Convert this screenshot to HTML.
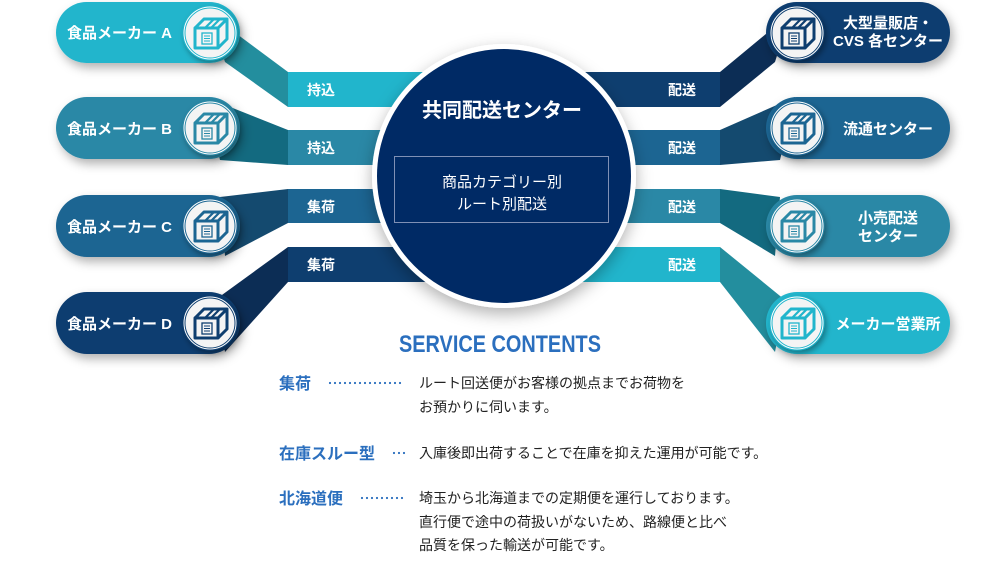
<!DOCTYPE html>
<html><head><meta charset="utf-8">
<style>
body{margin:0;background:#fff;width:1000px;height:560px;overflow:hidden;font-family:"Liberation Sans","Noto Sans CJK JP",sans-serif;}
svg text{font-family:"Liberation Sans","Noto Sans CJK JP",sans-serif;}
</style></head><body>
<svg width="1000" height="560" viewBox="0 0 1000 560" xmlns="http://www.w3.org/2000/svg">
<defs>
<filter id="sh" x="-20%" y="-30%" width="150%" height="170%"><feDropShadow dx="3" dy="5" stdDeviation="5" flood-color="#000" flood-opacity="0.3"/></filter>
<filter id="sh2" x="-30%" y="-30%" width="160%" height="160%"><feDropShadow dx="2" dy="3" stdDeviation="3" flood-color="#000" flood-opacity="0.35"/></filter>
<filter id="csh" x="-20%" y="-20%" width="140%" height="140%"><feDropShadow dx="0" dy="6" stdDeviation="8" flood-color="#000" flood-opacity="0.3"/></filter>
<g id="box">
<circle r="27" fill="#fff" filter="url(#sh2)"/>
<circle r="25" fill="#f4f4f4"/>
<g fill="none" stroke-width="3" stroke-linejoin="round">
<path d="M-15,-5 L-15,15 L8,15 L8,-5 Z"/>
<path d="M-15,-5 L-6,-14 L17,-14 L8,-5"/>
<path d="M8,15 L17,6 L17,-14"/>
<path d="M-5,-5 L4,-14 M1,-5 L10,-14" stroke-width="2.2"/>
</g>
<rect x="-8" y="0" width="10" height="11" stroke-width="1.3" fill="none"/>
<path d="M-6,3h6M-6,5.5h6M-6,8h6" stroke-width="1"/>
</g>
</defs>

<!-- left connectors -->
<polygon points="210,14 288,72 288,107 225,62" fill="#238e9e"/>
<polygon points="288,72 440,72 440,107 288,107" fill="#21b5cc"/>
<polygon points="205,97 288,130 288,165 220,160" fill="#136a80"/>
<polygon points="288,130 440,130 440,165 288,165" fill="#2a88a6"/>
<polygon points="220,197 288,189 288,223 225,256" fill="#144a6f"/>
<polygon points="288,189 440,189 440,223 288,223" fill="#1c6592"/>
<polygon points="215,300 288,247 288,282 225,352" fill="#0c2d55"/>
<polygon points="288,247 440,247 440,282 288,282" fill="#0e3e6f"/>
<!-- right connectors -->
<polygon points="790,14 720,72 720,107 775,62" fill="#0c2d55"/>
<polygon points="560,72 720,72 720,107 560,107" fill="#0e3e6f"/>
<polygon points="795,97 720,130 720,165 780,160" fill="#144a6f"/>
<polygon points="560,130 720,130 720,165 560,165" fill="#1c6592"/>
<polygon points="780,197 720,189 720,223 775,256" fill="#136a80"/>
<polygon points="560,189 720,189 720,223 560,223" fill="#2a88a6"/>
<polygon points="785,300 720,247 720,282 775,352" fill="#238e9e"/>
<polygon points="560,247 720,247 720,282 560,282" fill="#21b5cc"/>

<g fill="#fff" font-size="14" font-weight="bold" text-anchor="middle">
<text x="321" y="95">持込</text><text x="321" y="153">持込</text>
<text x="321" y="212">集荷</text><text x="321" y="270">集荷</text>
<text x="682" y="95">配送</text><text x="682" y="153">配送</text>
<text x="682" y="212">配送</text><text x="682" y="270">配送</text>
</g>

<g filter="url(#sh)">
<rect x="56" y="2" width="184" height="61" rx="30.5" fill="#21b5cc"/>
<rect x="56" y="97" width="184" height="62" rx="31" fill="#2a88a6"/>
<rect x="56" y="195" width="184" height="62" rx="31" fill="#1c6592"/>
<rect x="56" y="292" width="184" height="62" rx="31" fill="#0e3e6f"/>
<rect x="766" y="2" width="184" height="61" rx="30.5" fill="#0e3e6f"/>
<rect x="766" y="97" width="184" height="62" rx="31" fill="#1c6592"/>
<rect x="766" y="195" width="184" height="62" rx="31" fill="#2a88a6"/>
<rect x="766" y="292" width="184" height="62" rx="31" fill="#21b5cc"/>
</g>
<use href="#box" x="210" y="33" stroke="#21b5cc" fill="#21b5cc"/>
<use href="#box" x="210" y="128" stroke="#2a88a6" fill="#2a88a6"/>
<use href="#box" x="210" y="226" stroke="#1c6592" fill="#1c6592"/>
<use href="#box" x="210" y="323" stroke="#0e3e6f" fill="#0e3e6f"/>
<use href="#box" x="797" y="33" stroke="#0e3e6f" fill="#0e3e6f"/>
<use href="#box" x="797" y="128" stroke="#1c6592" fill="#1c6592"/>
<use href="#box" x="797" y="226" stroke="#2a88a6" fill="#2a88a6"/>
<use href="#box" x="797" y="323" stroke="#21b5cc" fill="#21b5cc"/>

<g fill="#fff" font-size="15" font-weight="bold">
<text x="67" y="38">食品メーカー A</text>
<text x="67" y="134">食品メーカー B</text>
<text x="67" y="232">食品メーカー C</text>
<text x="67" y="329">食品メーカー D</text>
</g>
<g fill="#fff" font-size="15" font-weight="bold" text-anchor="middle">
<text x="888" y="28">大型量販店・</text>
<text x="888" y="46">CVS 各センター</text>
<text x="888" y="134">流通センター</text>
<text x="888" y="223">小売配送</text>
<text x="888" y="241">センター</text>
<text x="888" y="329">メーカー営業所</text>
</g>

<circle cx="504" cy="176" r="132" fill="#fff" filter="url(#csh)"/>
<circle cx="504" cy="176" r="127" fill="#002a65"/>
<text x="502" y="117" fill="#fff" font-size="20" font-weight="bold" text-anchor="middle">共同配送センター</text>
<rect x="394.5" y="156.5" width="214" height="66" fill="none" stroke="#7f90b5" stroke-width="1"/>
<text x="502" y="187" fill="#fff" font-size="15" text-anchor="middle">商品カテゴリー別</text>
<text x="502" y="209" fill="#fff" font-size="15" text-anchor="middle">ルート別配送</text>

<text x="500" y="352" fill="#2b6fbe" font-size="24" font-weight="bold" text-anchor="middle" style="font-family:'Liberation Sans Narrow','Liberation Sans',sans-serif" textLength="202" lengthAdjust="spacingAndGlyphs">SERVICE CONTENTS</text>
<g fill="#2b6fbe" font-size="16" font-weight="bold">
<text x="279" y="389">集荷</text>
<text x="279" y="459">在庫スルー型</text>
<text x="279" y="504">北海道便</text>
</g>
<g stroke="#2b6fbe" stroke-width="2.2" stroke-linecap="round" stroke-dasharray="0 5">
<line x1="330" y1="383" x2="405" y2="383"/>
<line x1="394" y1="453" x2="405" y2="453"/>
<line x1="362" y1="498" x2="405" y2="498"/>
</g>
<g fill="#222" font-size="14">
<text x="419" y="388">ルート回送便がお客様の拠点までお荷物を</text>
<text x="419" y="412">お預かりに伺います。</text>
<text x="419" y="458">入庫後即出荷することで在庫を抑えた運用が可能です。</text>
<text x="419" y="503">埼玉から北海道までの定期便を運行しております。</text>
<text x="419" y="527">直行便で途中の荷扱いがないため、路線便と比べ</text>
<text x="419" y="550">品質を保った輸送が可能です。</text>
</g>
</svg>
</body></html>
